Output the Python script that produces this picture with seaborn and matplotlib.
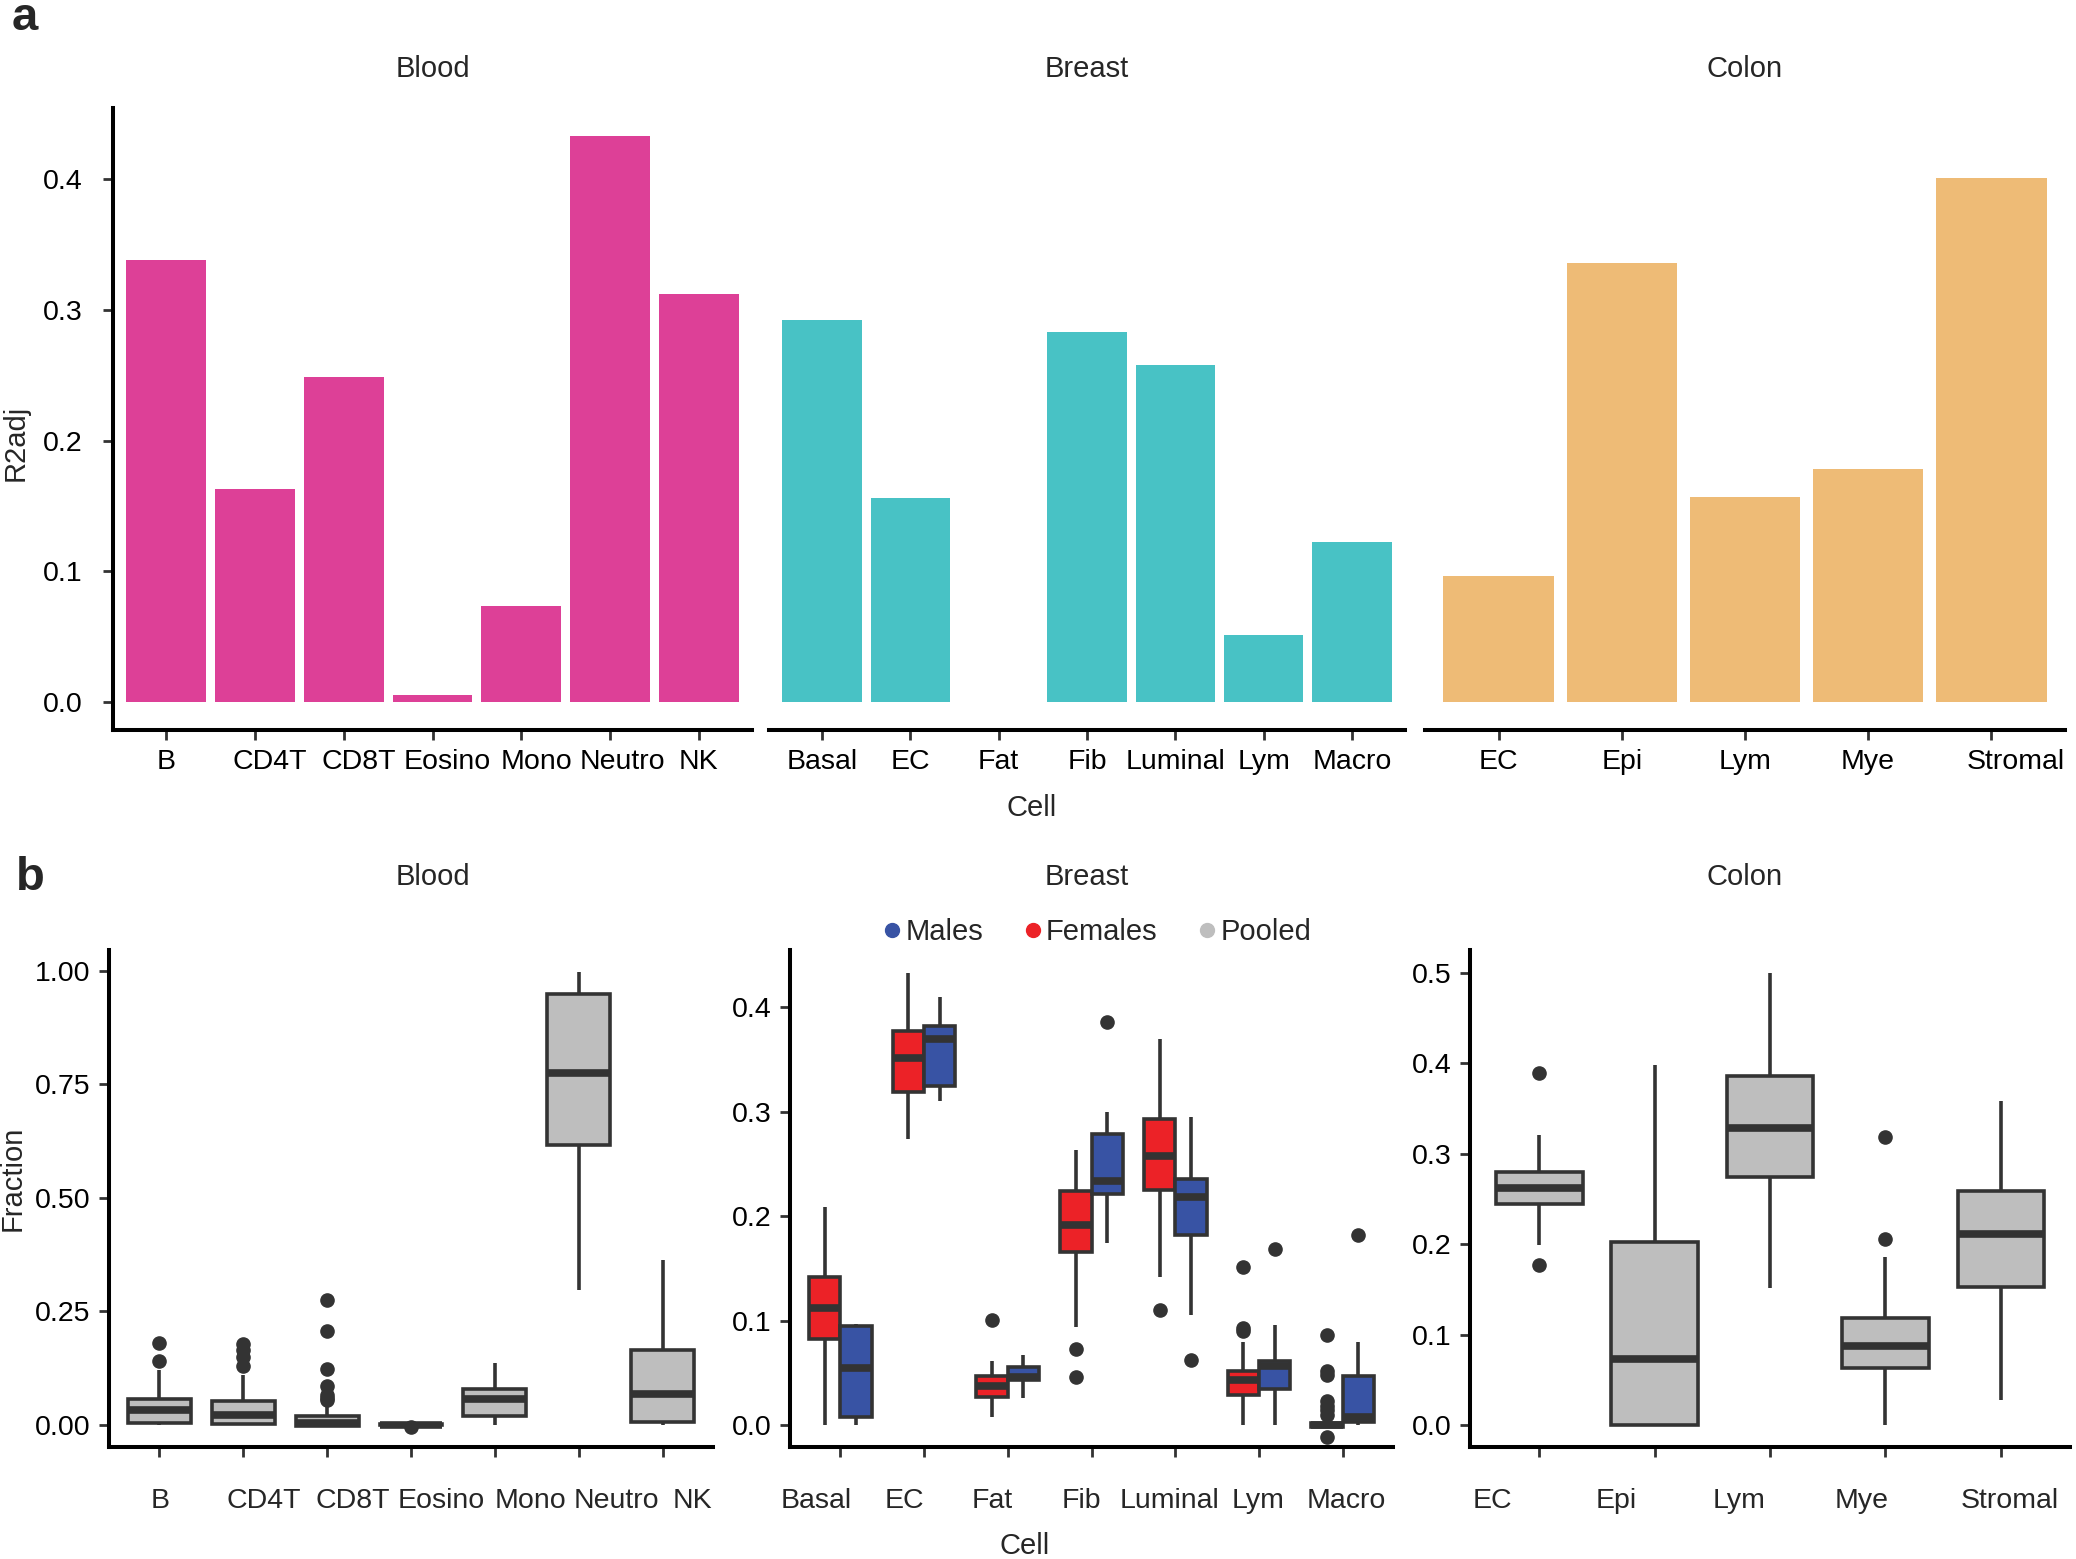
import numpy as np
import pandas as pd
import seaborn as sns
import matplotlib.pyplot as plt
import matplotlib.transforms as mtrans
from matplotlib.lines import Line2D

sns.set_style('ticks')
plt.rcParams['font.family'] = ['Liberation Sans', 'DejaVu Sans']

# ---- panel a: adjusted R2 per cell type ----
blood_cells = ['B', 'CD4T', 'CD8T', 'Eosino', 'Mono', 'Neutro', 'NK']
breast_cells = ['Basal', 'EC', 'Fat', 'Fib', 'Luminal', 'Lym', 'Macro']
colon_cells = ['EC', 'Epi', 'Lym', 'Mye', 'Stromal']

blood_r2 = [0.338, 0.163, 0.249, 0.005, 0.073, 0.433, 0.312]
breast_r2 = [0.292, 0.156, 0.0, 0.283, 0.258, 0.051, 0.122]
colon_r2 = [0.096, 0.336, 0.157, 0.178, 0.401]

# ---- panel b: box summaries (low whisker, q1, median, q3, high whisker) ----
blood_box = [(0.0, 0.004, 0.032, 0.056, 0.12), (0.0, 0.002, 0.022, 0.052, 0.11),
             (-0.004, -0.002, 0.004, 0.02, 0.048), (-0.002, -0.001, 0.0, 0.001, 0.002),
             (0.0, 0.019, 0.056, 0.079, 0.135), (0.296, 0.616, 0.775, 0.948, 0.998),
             (0.0, 0.007, 0.067, 0.165, 0.362)]
blood_out = [[0.141, 0.181], [0.13, 0.15, 0.165, 0.177],
             [0.055, 0.06, 0.066, 0.086, 0.122, 0.206, 0.275], [-0.006], [], [], []]

breast_f_box = [(0.0, 0.082, 0.112, 0.142, 0.209), (0.274, 0.319, 0.352, 0.377, 0.433),
                (0.008, 0.027, 0.037, 0.047, 0.061), (0.094, 0.166, 0.192, 0.224, 0.263),
                (0.142, 0.225, 0.258, 0.293, 0.37), (0.0, 0.029, 0.043, 0.052, 0.08),
                (-0.003, -0.002, 0.0, 0.002, 0.005)]
breast_f_out = [[], [], [0.101], [0.046, 0.073], [0.11], [0.09, 0.093, 0.151],
                [-0.011, 0.01, 0.014, 0.018, 0.023, 0.048, 0.052, 0.086]]
breast_m_box = [(0.0, 0.008, 0.055, 0.095, 0.097), (0.31, 0.325, 0.37, 0.382, 0.41),
                (0.026, 0.043, 0.046, 0.056, 0.067), (0.174, 0.221, 0.234, 0.279, 0.30),
                (0.105, 0.182, 0.218, 0.236, 0.295), (0.0, 0.035, 0.057, 0.061, 0.096),
                (0.0, 0.003, 0.008, 0.047, 0.08)]
breast_m_out = [[], [], [], [0.386], [0.062], [0.169], [0.182]]

colon_box = [(0.199, 0.244, 0.262, 0.28, 0.321), (0.0, 0.0, 0.073, 0.203, 0.398),
             (0.152, 0.274, 0.328, 0.386, 0.5), (0.0, 0.063, 0.088, 0.119, 0.186),
             (0.028, 0.153, 0.211, 0.259, 0.358)]
colon_out = [[0.177, 0.389], [], [], [0.206, 0.318], []]

pink, teal, orange = '#DD4097', '#48C2C5', '#EEBB76'
red, blue, grey = '#EC2227', '#3853A4', '#BEBEBE'
dark = '#333333'


def box_sample(stats, outliers):
    # values whose quartiles / whiskers reproduce the drawn box
    lo, q1, med, q3, hi = stats
    low_out = sorted(v for v in outliers if v < q1)
    high_out = sorted(v for v in outliers if v > q3)
    m = max(len(low_out), len(high_out)) + 2
    lower = low_out + [lo] + [q1] * (m - len(low_out))
    middle = [med] * m + [q3] * m
    upper = [q3] * (m - 1 - len(high_out)) + [hi] + high_out
    return lower + middle + upper


def box_frame(cells, boxes, outs, sex=None):
    rows = []
    for c, b, o in zip(cells, boxes, outs):
        for v in box_sample(b, o):
            rows.append({'Cell': c, 'Fraction': v, 'Sex': sex})
    return pd.DataFrame(rows)


W, H = 2076, 1559
fig = plt.figure(figsize=(W / 100, H / 100), dpi=100)


def px_axes(l, r, top, bottom):
    return fig.add_axes([l / W, 1 - bottom / H, (r - l) / W, (bottom - top) / H])


tfs = 20.5   # tick labels
fs = 21      # titles / axis labels


def style(ax, left=True, ypad=6.5):
    sns.despine(ax=ax, left=not left)
    for s in ['bottom', 'left']:
        ax.spines[s].set_linewidth(2.9)
        ax.spines[s].set_color('black')
    ax.tick_params(axis='both', length=7, width=2, color=dark, labelsize=tfs,
                   labelcolor='black')
    ax.tick_params(axis='y', pad=ypad)
    if not left:
        ax.tick_params(axis='y', left=False, labelleft=False)
    ax.set_xlabel('')
    ax.set_ylabel('')


def drop_caps(ax):
    # ggplot-style boxes: no whisker caps
    for ln in ax.lines:
        y = np.asarray(ln.get_ydata())
        if ln.get_marker() in ('None', '', None) and len(y) == 2 and y[0] == y[1] \
                and ln.get_linewidth() < 4:
            ln.set_visible(False)


# label nudges (px) as the labels sit in the original figure
label_shift = [[0, 15, 15, 15, 15, 12, 0], [0] * 7, [0, 0, 0, 0, 25]]

# ---------------- panel a ----------------
a_pos = [(113, 752), (769, 1405), (1425, 2065)]
a_sets = [(blood_cells, blood_r2, pink), (breast_cells, breast_r2, teal),
          (colon_cells, colon_r2, orange)]
a_axes = []
for i, ((l, r), (cells, vals, col)) in enumerate(zip(a_pos, a_sets)):
    ax = px_axes(l, r, 108, 730)
    sns.barplot(x=cells, y=vals, order=cells, color=col, width=0.9, saturation=1,
                linewidth=0, ax=ax)
    ax.set_xlim(-0.6, len(cells) - 0.4)
    ax.set_ylim(-0.0217, 0.4547)
    ax.set_yticks([0, 0.1, 0.2, 0.3, 0.4])
    ax.set_yticklabels(['0.0', '0.1', '0.2', '0.3', '0.4'])
    style(ax, left=(i == 0), ypad=15)
    ax.tick_params(axis='x', pad=7)
    for lab, dx in zip(ax.get_xticklabels(), label_shift[i]):
        lab.set_transform(lab.get_transform() +
                          mtrans.ScaledTranslation(dx / 100, 0, fig.dpi_scale_trans))
    a_axes.append(ax)

# ---------------- panel b ----------------
b_pos = [(109, 713), (790, 1393), (1470, 2070)]
box_kw = dict(width=0.75, saturation=1, linecolor=dark, linewidth=2.6,
              medianprops=dict(linewidth=5.5, color=dark),
              flierprops=dict(marker='o', markersize=9.5, markerfacecolor=dark,
                              markeredgecolor=dark))

blood_df = box_frame(blood_cells, blood_box, blood_out)
breast_df = pd.concat([box_frame(breast_cells, breast_f_box, breast_f_out, 'Females'),
                       box_frame(breast_cells, breast_m_box, breast_m_out, 'Males')])
colon_df = box_frame(colon_cells, colon_box, colon_out)

b_axes = []
ax = px_axes(*b_pos[0], 950, 1447)
sns.boxplot(data=blood_df, x='Cell', y='Fraction', order=blood_cells, color=grey, ax=ax, **box_kw)
ax.set_ylim(-0.049, 1.046)
ax.set_yticks([0, 0.25, 0.5, 0.75, 1.0])
ax.set_yticklabels(['0.00', '0.25', '0.50', '0.75', '1.00'])
b_axes.append(ax)

ax = px_axes(*b_pos[1], 950, 1447)
sns.boxplot(data=breast_df, x='Cell', y='Fraction', order=breast_cells, hue='Sex',
            hue_order=['Females', 'Males'], palette={'Females': red, 'Males': blue},
            legend=False, ax=ax, **box_kw)
ax.set_ylim(-0.021, 0.455)
ax.set_yticks([0, 0.1, 0.2, 0.3, 0.4])
ax.set_yticklabels(['0.0', '0.1', '0.2', '0.3', '0.4'])
b_axes.append(ax)

ax = px_axes(*b_pos[2], 950, 1447)
sns.boxplot(data=colon_df, x='Cell', y='Fraction', order=colon_cells, color=grey, ax=ax, **box_kw)
ax.set_ylim(-0.024, 0.525)
ax.set_yticks([0, 0.1, 0.2, 0.3, 0.4, 0.5])
ax.set_yticklabels(['0.0', '0.1', '0.2', '0.3', '0.4', '0.5'])
b_axes.append(ax)

for ax, (cells, _, _) in zip(b_axes, a_sets):
    ax.set_xlim(-0.6, len(cells) - 0.4)
    style(ax)
    ax.set_xticks(range(len(cells)))
    ax.set_xticklabels([])
    drop_caps(ax)

# row b tick labels sit under the row a label positions
for k, (axa, (cells, _, _)) in enumerate(zip(a_axes, a_sets)):
    for j, c in enumerate(cells):
        x = axa.transData.transform((j, 0))[0] - 6 + label_shift[k][j]
        fig.text(x / W, 1 - 1501 / H, c, ha='center', va='center', fontsize=tfs)

# strip titles for both rows
for axa, name in zip(a_axes, ['Blood', 'Breast', 'Colon']):
    xc = axa.transAxes.transform((0.5, 0))[0] / W
    fig.text(xc, 1 - 69 / H, name, ha='center', va='center', fontsize=fs)
    fig.text(xc, 1 - 877 / H, name, ha='center', va='center', fontsize=fs)

fig.text(1032 / W, 1 - 808 / H, 'Cell', ha='center', va='center', fontsize=fs)
fig.text(1025 / W, 1 - 1546 / H, 'Cell', ha='center', va='center', fontsize=fs)
fig.text(16 / W, 1 - 443 / H, 'R2adj', ha='center', va='center', rotation=90, fontsize=fs)
fig.text(13 / W, 1 - 1178 / H, 'Fraction', ha='center', va='center', rotation=90, fontsize=fs)

fig.text(12 / W, 1 - 30 / H, 'a', fontsize=34, fontweight='bold', va='baseline')
fig.text(16 / W, 1 - 890 / H, 'b', fontsize=34, fontweight='bold', va='baseline')

handles = [Line2D([], [], linestyle='', marker='o', markersize=10, color=c, label=n)
           for c, n in [(blue, 'Males'), (red, 'Females'), (grey, 'Pooled')]]
fig.legend(handles=handles, loc='center', bbox_to_anchor=(1096 / W, 1 - 932 / H),
           ncol=3, frameon=False, fontsize=21, handletextpad=0.05, columnspacing=1.3,
           handlelength=0.8)

fig.savefig('out.png', dpi=100)
